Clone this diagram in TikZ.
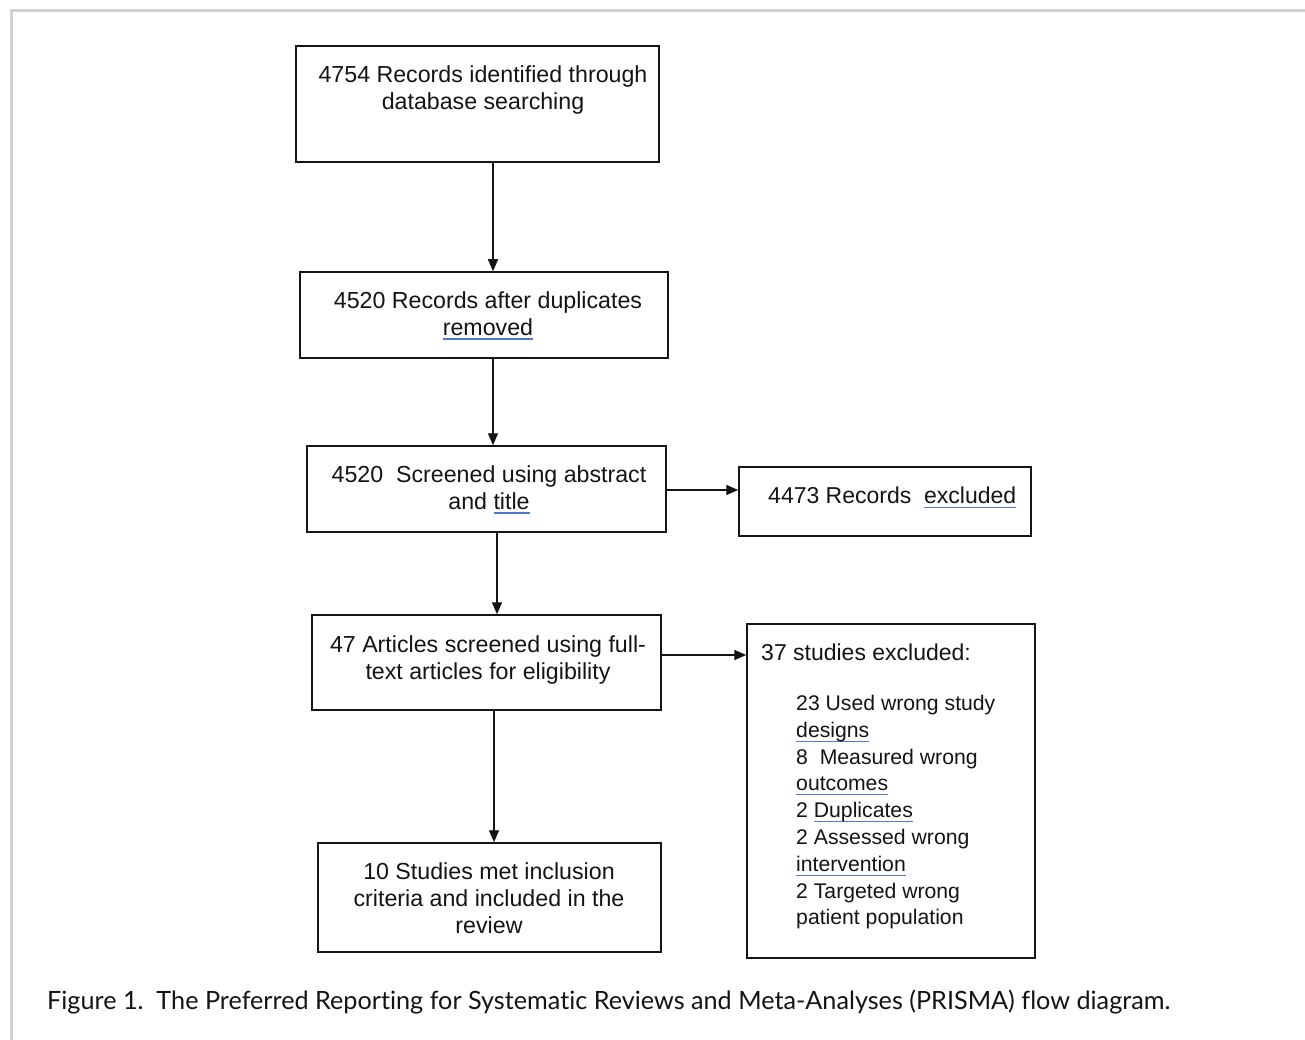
\documentclass[tikz,border=0pt]{standalone}
\usepackage{fontspec}
\setmainfont{Liberation Sans}
\newfontfamily\capfont[Ligatures=NoCommon]{Lato}
\usetikzlibrary{arrows.meta}
\definecolor{sqb}{RGB}{80,120,205}
\definecolor{frame}{RGB}{210,210,210}
\definecolor{ink}{RGB}{20,20,20}
\newcommand\sq[1]{\setbox0=\hbox{#1}\rlap{\color{sqb}\rule[-4.5pt]{\wd0}{1.3pt}}\box0}
\tikzset{
  box/.style={draw=ink, line width=1.5pt, inner sep=0pt},
  txt/.style={inner sep=0pt, align=center, text=ink, font=\fontsize{23.2}{27}\selectfont},
  ltxt/.style={inner sep=0pt, align=left, anchor=north west, text=ink, font=\fontsize{23}{27}\selectfont},
  lsmall/.style={ltxt, font=\fontsize{21.2}{26.8}\selectfont},
  arr/.style={draw=ink, line width=1.4pt, -{Triangle[length=12pt,width=10pt]}}
}
\begin{document}
\begin{tikzpicture}[x=1pt,y=-1pt]
\useasboundingbox (0,0) rectangle (1305,1040);
\fill[white] (0,0) rectangle (1305,1040);
% frame
\draw[frame, line width=3pt] (11.5,1040) -- (11.5,10.5) -- (1305,10.5);
% boxes
\node[box, minimum width=363pt, minimum height=116pt] (b1) at (477.5,104) {};
\node[box, minimum width=368pt, minimum height=86pt] (b2) at (484,315) {};
\node[box, minimum width=359pt, minimum height=86pt] (b3) at (486.5,489) {};
\node[box, minimum width=292pt, minimum height=69pt] (b4) at (885,501.5) {};
\node[box, minimum width=349pt, minimum height=95pt] (b5) at (486.5,662.5) {};
\node[box, minimum width=288pt, minimum height=334pt] (b6) at (891,791) {};
\node[box, minimum width=343pt, minimum height=109pt] (b7) at (489.5,897.5) {};
% texts
\node[txt, anchor=north] (t1) at (483,65) {4754 Records identified through\\database searching};
\node[txt, anchor=north] (t2) at (488,291) {4520 Records after duplicates\\\sq{removed}};
\node[txt, anchor=north] (t3) at (489,465) {4520 \ Screened using abstract\\and \sq{title}};
\node[ltxt] (t4) at (768,487) {4473 Records \ \sq{excluded}};
\node[txt, anchor=north] (t5) at (488,635) {47 Articles screened using full-\\text articles for eligibility};
\node[ltxt] (t6) at (761,644) {37 studies excluded:};
\node[lsmall] (t6b) at (796,695) {23 Used wrong study\\\sq{designs}\\8 \ Measured wrong\\\sq{outcomes}\\2 \sq{Duplicates}\\2 Assessed wrong\\\sq{intervention}\\2 Targeted wrong\\patient population};
\node[txt, anchor=north] (t7) at (489,862) {10 Studies met inclusion\\criteria and included in the\\review};
% arrows
\coordinate (xa) at (493,0);
\coordinate (xb) at (497,0);
\coordinate (xc) at (494,0);
\coordinate (ya) at (0,490);
\coordinate (yb) at (0,655);
\draw[arr] (xa |- b1.south) -- (xa |- b2.north);
\draw[arr] (xa |- b2.south) -- (xa |- b3.north);
\draw[arr] (xb |- b3.south) -- (xb |- b5.north);
\draw[arr] (xc |- b5.south) -- (xc |- b7.north);
\draw[arr] (b3.east |- ya) -- (b4.west |- ya);
\draw[arr] (b5.east |- yb) -- (b6.west |- yb);
% caption
\node[anchor=base west, inner sep=0pt, text=ink, font=\capfont\fontsize{25.2}{30}\selectfont] (cap) at (47,1009) {Figure 1.\ \ The Preferred Reporting for Systematic Reviews and Meta-Analyses (PRISMA) flow diagram.};
\end{tikzpicture}
\end{document}
